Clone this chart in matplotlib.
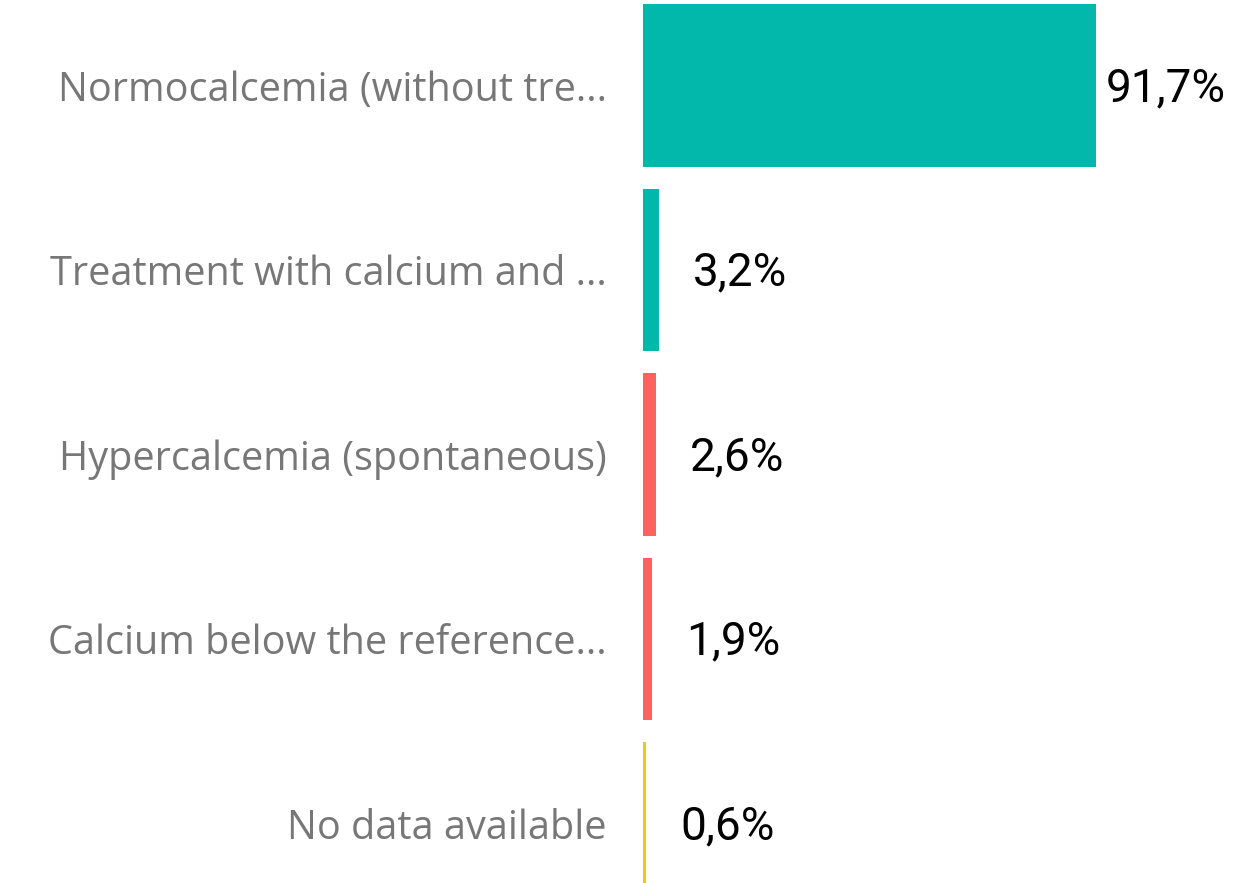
import matplotlib
matplotlib.use('Agg')
import matplotlib.pyplot as plt

categories = ['Normocalcemia (without tre...', 'Treatment with calcium and ...',
              'Hypercalcemia (spontaneous)', 'Calcium below the reference...',
              'No data available']
values = [91.7, 3.2, 2.6, 1.9, 0.6]
colors = ['#01B8AA', '#01B8AA', '#FD625E', '#FD625E', '#F2C80F']
labels = ['91,7%', '3,2%', '2,6%', '1,9%', '0,6%']

fig = plt.figure(figsize=(12.45, 8.83), dpi=100)
ax = fig.add_axes([643 / 1245, 0, 1 - 643 / 1245, 1])

pos = list(range(len(categories)))
ax.barh(pos, values, height=0.883, color=colors)
ax.set_xlim(0, 121.9)
ax.set_ylim(4.3225, -0.4634)

ax.set_yticks(pos)
ax.set_yticklabels(categories, fontsize=28.5, color='#777777', family='Open Sans')
ax.tick_params(axis='y', length=0, pad=26)
ax.set_xticks([])
for s in ax.spines.values():
    s.set_visible(False)

for p, v, lab in zip(pos, values, labels):
    # wide bars get a tight pad so the label stays inside the figure
    pad = 10 if v > 50 else 34
    ax.annotate(lab, (v, p), xytext=(pad * 0.72, -2), textcoords='offset points',
                ha='left', va='center', fontsize=33, color='black', family='Roboto')

fig.savefig('out.png', dpi=100)
